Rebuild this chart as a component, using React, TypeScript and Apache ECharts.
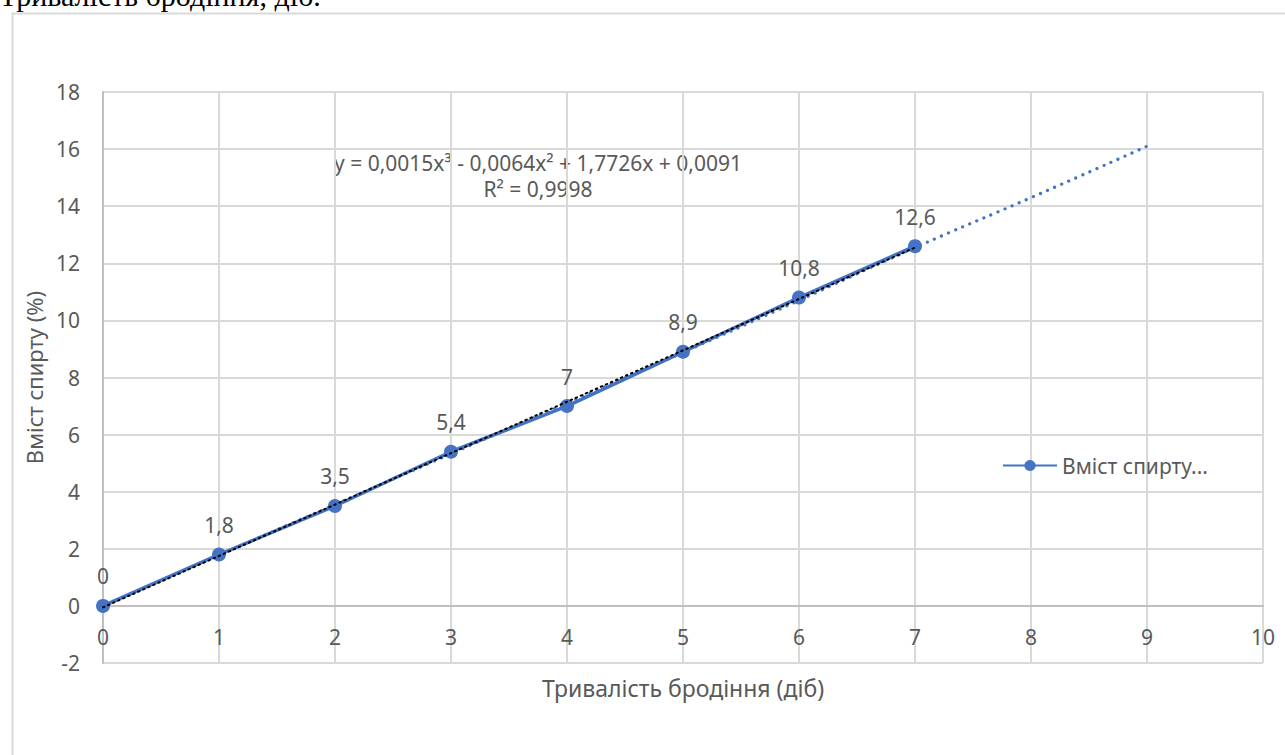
import React, { useEffect, useRef } from "react";
import * as echarts from "echarts";

const days = [0, 1, 2, 3, 4, 5, 6, 7];
const alcohol = [0, 1.8, 3.5, 5.4, 7, 8.9, 10.8, 12.6];
// polynomial trend line (blue dotted), extended to day 9
const polyTrendX = [0, 1, 2, 3, 4, 5, 6, 7, 8, 9];
const polyTrendY = [0.0, 1.78, 3.55, 5.33, 7.1, 8.88, 10.7, 12.55, 14.3, 16.1];
// linear trend line (black dotted)
const linTrendY = [-0.05, 1.75, 3.55, 5.35, 7.15, 8.95, 10.75, 12.55];

const seriesName = "Вміст спирту (%)";
const legendText = "Вміст спирту...";
const pageTitle = "Тривалість бродіння, діб.";
const xTitle = "Тривалість бродіння (діб)";
const yTitle = "Вміст спирту (%)";
const equation = "y = 0,0015x³ - 0,0064x² + 1,7726x + 0,0091";
const rSquared = "R² = 0,9998";

const FONT = "Noto Sans";
const FS = 21;
const TXT = "#595959";
const GRID = "#d9d9d9";
const BLUE = "#4472C4";

export default function App() {
  const ref = useRef<HTMLDivElement>(null);
  useEffect(() => {
    if (!ref.current) return;
    const chart = echarts.init(ref.current, null, { renderer: "svg" });
    chart.setOption({
      animation: false,
      backgroundColor: "#ffffff",
      textStyle: { fontFamily: FONT, color: TXT },
      grid: { left: 103, right: 22, top: 92, bottom: 92 },
      legend: {
        data: [seriesName],
        left: 997,
        top: 450,
        itemWidth: 54,
        itemHeight: 14,
        itemGap: 6,
        formatter: () => legendText,
        textStyle: { fontFamily: FONT, fontSize: FS, color: TXT },
      },
      xAxis: {
        type: "value",
        min: 0,
        max: 10,
        interval: 1,
        name: xTitle,
        nameLocation: "middle",
        nameGap: 13,
        nameTextStyle: { fontFamily: FONT, fontSize: 23, color: TXT, verticalAlign: "top" },
        axisLine: { onZero: true, lineStyle: { color: "#bfbfbf", width: 2 } },
        axisTick: { show: false },
        axisLabel: { fontFamily: FONT, fontSize: FS, color: TXT, margin: -37 },
        splitLine: { show: true, lineStyle: { color: GRID, width: 2 } },
      },
      yAxis: {
        type: "value",
        min: -2,
        max: 18,
        interval: 2,
        name: yTitle,
        nameLocation: "middle",
        nameRotate: 90,
        nameGap: 58,
        nameTextStyle: { fontFamily: FONT, fontSize: 22, color: TXT },
        axisLine: { show: true, lineStyle: { color: "#bfbfbf", width: 2 } },
        axisTick: { show: false },
        axisLabel: { fontFamily: FONT, fontSize: FS, color: TXT, margin: 23 },
        splitLine: { show: true, lineStyle: { color: GRID, width: 2 } },
      },
      series: [
        {
          name: seriesName,
          type: "line",
          data: days.map((d, i) => [d, alcohol[i]]),
          symbol: "circle",
          symbolSize: 14,
          itemStyle: { color: BLUE },
          lineStyle: { color: BLUE, width: 3.5 },
          label: {
            show: true,
            position: "top",
            distance: 12,
            fontFamily: FONT,
            fontSize: FS,
            color: TXT,
            formatter: (p: any) => String(p.value[1]).replace(".", ","),
          },
          z: 3,
        },
        {
          name: "Поліноміальна",
          type: "line",
          data: polyTrendX.map((d, i) => [d, polyTrendY[i]]),
          showSymbol: false,
          symbol: "none",
          smooth: true,
          lineStyle: { color: BLUE, width: 3.2, type: [0.1, 7.6], cap: "round" },
          z: 2,
        },
        {
          name: "Лінійна",
          type: "line",
          data: days.map((d, i) => [d, linTrendY[i]]),
          showSymbol: false,
          symbol: "none",
          lineStyle: { color: "#000000", width: 2, type: [1.5, 4], cap: "round" },
          z: 4,
        },
      ],
      graphic: [
        {
          type: "rect",
          left: 10,
          top: 11,
          shape: { x: 0, y: 0, width: 1290, height: 800 },
          style: { fill: "none", stroke: GRID, lineWidth: 2 },
          z: -10,
          silent: true,
        },
        {
          type: "text",
          x: -1,
          y: 10,
          style: {
            text: pageTitle,
            font: "30px 'Liberation Serif', serif",
            fill: "#000000",
            verticalAlign: "bottom",
          },
        },
        {
          type: "text",
          x: 538,
          y: 163,
          style: {
            text: equation,
            fontFamily: FONT,
            fontSize: FS,
            fill: TXT,
            align: "center",
            verticalAlign: "middle",
          },
        },
        {
          type: "text",
          x: 538,
          y: 189,
          style: {
            text: rSquared,
            fontFamily: FONT,
            fontSize: FS,
            fill: TXT,
            align: "center",
            verticalAlign: "middle",
          },
        },
      ],
    });
    return () => chart.dispose();
  }, []);
  return (
    <div
      ref={ref}
      style={{ position: "absolute", left: 0, top: 0, width: 1285, height: 755 }}
    />
  );
}
